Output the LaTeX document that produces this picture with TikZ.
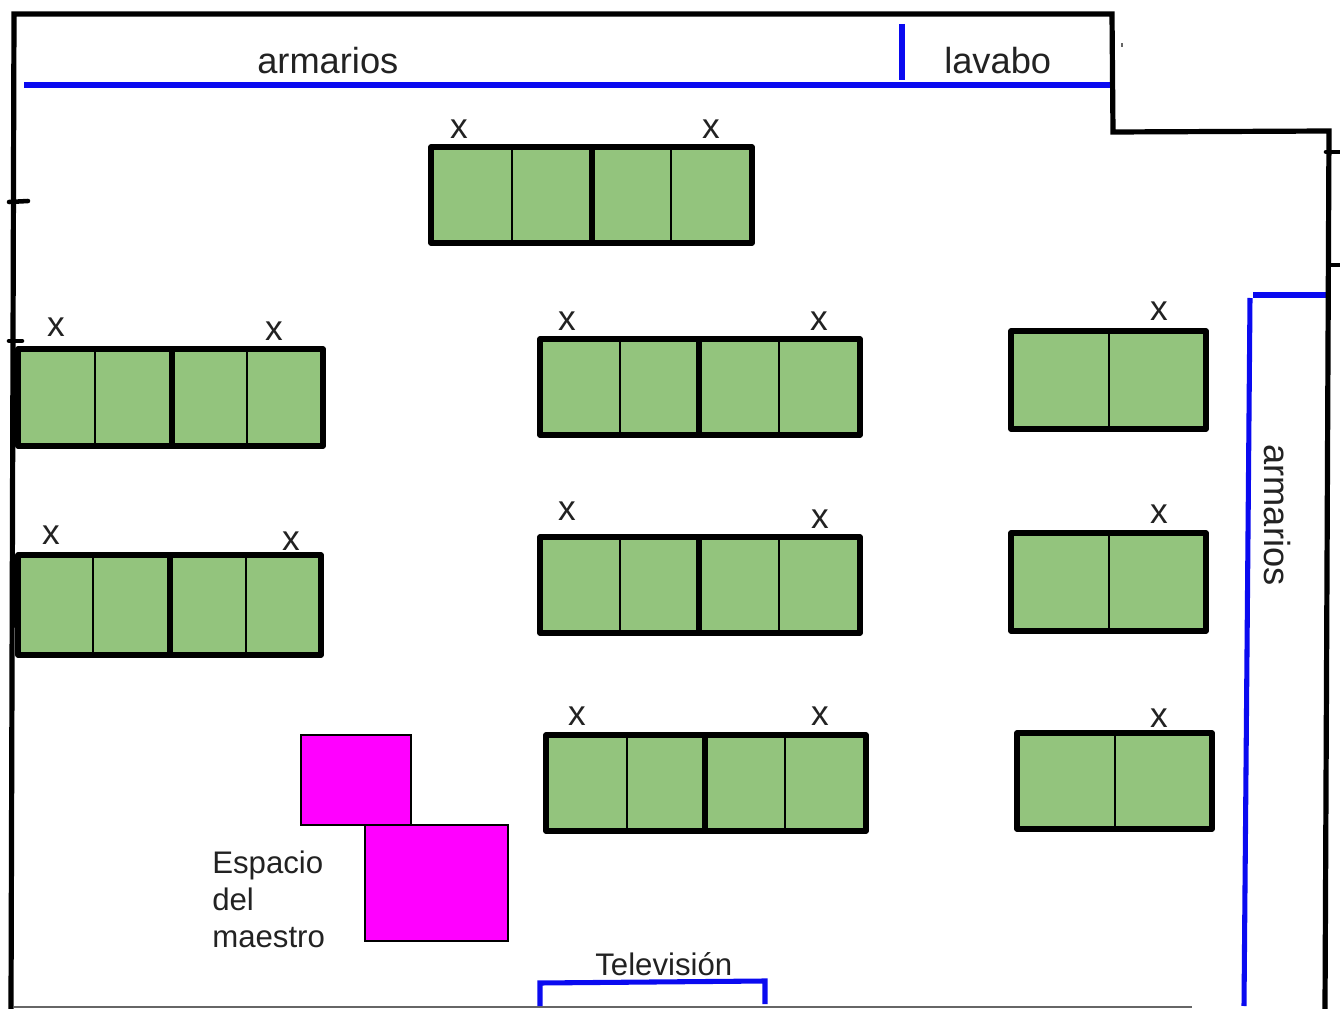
\documentclass[tikz,border=0pt]{standalone}
\usepackage{fontspec}
\setmainfont{Liberation Sans}
\definecolor{deskgreen}{HTML}{93C47D}
\definecolor{planblue}{HTML}{0A0AF0}
\definecolor{teacher}{HTML}{FF00FF}
\definecolor{ink}{HTML}{222222}
\tikzset{
  wall/.style={draw=black,line width=3.9pt,line join=miter},
  tick/.style={draw=black,line width=3.4pt,line cap=round},
  fitted/.style={draw=planblue,line width=3.8pt},
  desk/.style={draw=black,fill=deskgreen,line width=4.2pt,line join=round},
  thindiv/.style={draw=black,line width=1.1pt},
  thickdiv/.style={draw=black,line width=4.4pt},
  teacherdesk/.style={draw=black,fill=teacher,line width=1pt},
  seat/.style={inner sep=0pt,text=ink,font=\fontsize{26.5}{26.5}\selectfont},
  biglabel/.style={inner sep=0pt,text=ink,font=\fontsize{27.2}{27.2}\selectfont},
  smalllabel/.style={inner sep=0pt,text=ink,font=\fontsize{23.4}{23.4}\selectfont},
}
\newcommand\deskfour[7]{%
  \draw[desk] (#1,#2) rectangle (#3,#4);
  \draw[thindiv] (#5,#2) -- (#5,#4);
  \draw[thickdiv] (#6,#2) -- (#6,#4);
  \draw[thindiv] (#7,#2) -- (#7,#4);
}
\newcommand\desktwo[5]{%
  \draw[desk] (#1,#2) rectangle (#3,#4);
  \draw[thindiv] (#5,#2) -- (#5,#4);
}
\begin{document}
\begin{tikzpicture}[x=0.75pt,y=-0.75pt]
\useasboundingbox (0,0) rectangle (1340,1009);
% bottom edge
\draw[draw=black!60,line width=1pt] (14,1007) -- (1192,1007);
% desks
\deskfour{431}{147}{752}{243}{512}{592}{671}
\deskfour{18}{349}{323}{446}{95}{172}{247}
\deskfour{18}{555}{321}{655}{93}{170}{246}
\deskfour{540}{339}{860}{435}{620}{699}{779}
\deskfour{540}{537}{860}{633}{620}{699}{779}
\deskfour{546}{735}{866}{831}{627}{705}{785}
\desktwo{1011}{331}{1206}{429}{1109}
\desktwo{1011}{533}{1206}{631}{1109}
\desktwo{1017}{733}{1212}{829}{1115}
% fitted furniture
\draw[fitted] (24,85) -- (1112,85);
\draw[fitted] (902,24) -- (902,80);
\draw[fitted] (1253,295) -- (1326,295);
\draw[fitted] (1250,298) -- (1244,1006);
\draw[fitted] (540,1006) -- (540,983) -- (765,981) -- (765,1004);
% walls
\draw[wall] (11,1009) -- (14,14) -- (1112,14) -- (1113,132) -- (1329,131) -- (1325,1009);
\draw[tick] (9,202) -- (28,201);
\draw[tick] (9,341) -- (22,341);
\draw[tick] (1326,152) -- (1340,152);
\draw[tick] (1331,265) -- (1340,265);
\fill[black!60] (1121,43) rectangle (1123,47);
% teacher's space
\draw[teacherdesk] (301,735) rectangle (411,825);
\draw[teacherdesk] (365,825) rectangle (508,941);
% labels
\node[biglabel,anchor=base west] (armariostop) at (257,74) {armarios};
\node[biglabel,anchor=base west] (lavabo) at (944,74) {lavabo};
\node[biglabel,rotate=-90] (armariosright) at (1277,515) {armarios};
\node[smalllabel,anchor=base west] (espacio) at (212,873) {Espacio};
\node[smalllabel,anchor=base west] (del) at (212,910) {del};
\node[smalllabel,anchor=base west] (maestro) at (212,947) {maestro};
\node[smalllabel,anchor=base west] (tele) at (595,975) {Televisión};
% seat marks
\node[seat] (x1) at (459,129) {x};
\node[seat] (x2) at (711,129) {x};
\node[seat] (x3) at (56,327) {x};
\node[seat] (x4) at (274,331) {x};
\node[seat] (x5) at (51,535) {x};
\node[seat] (x6) at (291,541) {x};
\node[seat] (x7) at (567,321) {x};
\node[seat] (x8) at (819,321) {x};
\node[seat] (x9) at (567,511) {x};
\node[seat] (x10) at (820,519) {x};
\node[seat] (x11) at (577,716) {x};
\node[seat] (x12) at (820,716) {x};
\node[seat] (x13) at (1159,311) {x};
\node[seat] (x14) at (1159,514) {x};
\node[seat] (x15) at (1159,718) {x};
\end{tikzpicture}
\end{document}
